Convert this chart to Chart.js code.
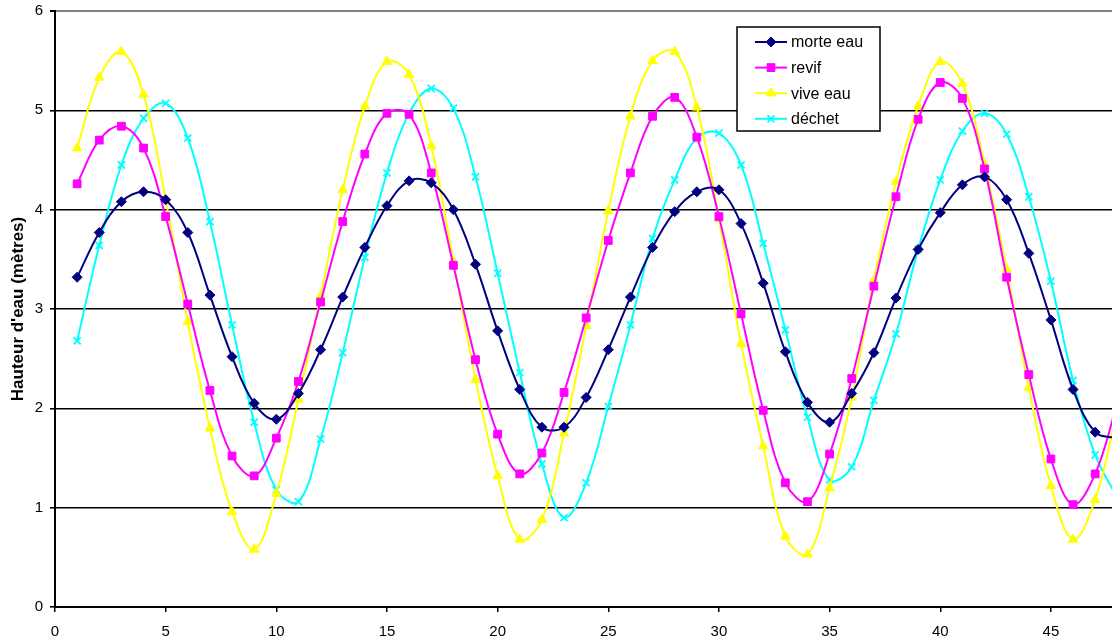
<!DOCTYPE html>
<html>
<head>
<meta charset="utf-8">
<script src="https://cdn.jsdelivr.net/npm/chart.js@4/dist/chart.umd.min.js"></script>
<style>
  html, body { margin: 0; padding: 0; background: #fff; overflow: hidden; }
  #wrap { width: 1112px; height: 643px; position: relative; }
  canvas { display: block; }
</style>
</head>
<body>
<div id="wrap"><canvas id="tideChart"></canvas></div>
<script>
// Days (x values)
const days = [1,2,3,4,5,6,7,8,9,10,11,12,13,14,15,16,17,18,19,20,21,22,23,24,
              25,26,27,28,29,30,31,32,33,34,35,36,37,38,39,40,41,42,43,44,45,46,47,48];

// Water heights in metres
const morteEau = [3.32,3.77,4.08,4.18,4.10,3.77,3.14,2.52,2.05,1.89,2.15,2.59,
                  3.12,3.62,4.04,4.29,4.27,4.00,3.45,2.78,2.19,1.81,1.81,2.11,
                  2.59,3.12,3.62,3.98,4.18,4.20,3.86,3.26,2.57,2.06,1.86,2.15,
                  2.56,3.11,3.60,3.97,4.25,4.33,4.10,3.56,2.89,2.19,1.76,1.70];
const revif    = [4.26,4.70,4.84,4.62,3.93,3.05,2.18,1.52,1.32,1.70,2.27,3.07,
                  3.88,4.56,4.97,4.96,4.37,3.44,2.49,1.74,1.34,1.55,2.16,2.91,
                  3.69,4.37,4.94,5.13,4.73,3.93,2.95,1.98,1.25,1.06,1.54,2.30,
                  3.23,4.13,4.91,5.28,5.12,4.41,3.32,2.34,1.49,1.03,1.34,2.05];
const viveEau  = [4.62,5.33,5.59,5.16,4.10,2.87,1.80,0.96,0.58,1.14,2.09,3.13,
                  4.20,5.04,5.49,5.36,4.64,3.48,2.29,1.32,0.68,0.88,1.75,2.83,
                  3.99,4.94,5.50,5.59,5.03,3.91,2.65,1.62,0.71,0.53,1.20,2.11,
                  3.29,4.28,5.04,5.49,5.27,4.46,3.40,2.21,1.22,0.68,1.08,1.98];
const dechet   = [2.68,3.64,4.45,4.92,5.07,4.72,3.88,2.84,1.86,1.18,1.06,1.69,
                  2.56,3.52,4.37,4.97,5.22,5.02,4.33,3.36,2.36,1.44,0.90,1.25,
                  2.02,2.84,3.71,4.30,4.72,4.77,4.45,3.66,2.79,1.91,1.28,1.41,
                  2.08,2.75,3.60,4.30,4.79,4.97,4.76,4.13,3.28,2.28,1.53,1.10];

const seriesNames = ['morte eau', 'revif', 'vive eau', 'déchet'];
const seriesColors = ['#000080', '#FF00FF', '#FFFF00', '#00FFFF'];
const seriesMarkers = ['rectRot', 'rect', 'triangle', 'crossRot'];
const seriesRadius = [5, 5.5, 5.5, 5];
const seriesValues = [morteEau, revif, viveEau, dechet];

const FONT = '"Liberation Sans", Arial, sans-serif';

function toPoints(values) {
  return days.map((d, i) => ({ x: d, y: values[i] }));
}

const datasets = seriesNames.map((name, i) => ({
  label: name,
  data: toPoints(seriesValues[i]),
  borderColor: seriesColors[i],
  backgroundColor: seriesColors[i],
  pointBackgroundColor: seriesColors[i],
  pointBorderColor: seriesColors[i],
  pointStyle: seriesMarkers[i],
  pointRadius: seriesRadius[i],
  pointBorderWidth: seriesMarkers[i] === 'crossRot' ? 1.8 : 1,
  borderWidth: 2,
  tension: 0.38,
  fill: false
}));

// legend box drawn inside the plot area
const boxLegend = {
  id: 'boxLegend',
  afterDraw(chart) {
    const ctx = chart.ctx;
    const a = chart.chartArea;
    const x0 = a.left + 682, y0 = a.top + 16, w = 143, h = 104;
    ctx.save();
    ctx.fillStyle = '#fff';
    ctx.fillRect(x0, y0, w, h);
    ctx.strokeStyle = '#000';
    ctx.lineWidth = 1.5;
    ctx.strokeRect(x0, y0, w, h);
    ctx.font = '16px ' + FONT;
    ctx.textBaseline = 'middle';
    seriesNames.forEach((name, i) => {
      const y = y0 + 15 + i * 25.6;
      ctx.strokeStyle = seriesColors[i];
      ctx.fillStyle = seriesColors[i];
      ctx.lineWidth = 2;
      ctx.beginPath();
      ctx.moveTo(x0 + 18, y);
      ctx.lineTo(x0 + 50, y);
      ctx.stroke();
      ctx.lineWidth = seriesMarkers[i] === 'crossRot' ? 1.8 : 1;
      Chart.helpers.drawPoint(ctx, {
        pointStyle: seriesMarkers[i],
        radius: seriesRadius[i],
        rotation: 0,
        borderWidth: ctx.lineWidth
      }, x0 + 34, y);
      ctx.fillStyle = '#000';
      ctx.fillText(name, x0 + 54, y + 1);
    });
    ctx.restore();
  }
};

new Chart(document.getElementById('tideChart'), {
  type: 'line',
  data: { datasets: datasets },
  plugins: [boxLegend],
  options: {
    responsive: true,
    maintainAspectRatio: false,
    animation: false,
    layout: { autoPadding: false, padding: { top: 11, right: 0, left: 0, bottom: 0 } },
    plugins: {
      legend: { display: false },
      tooltip: { enabled: false }
    },
    scales: {
      x: {
        type: 'linear',
        min: 0,
        max: 47.76,
        afterFit(scale) { scale.height = 36; },
        grid: {
          drawOnChartArea: false,
          color: '#000',
          tickColor: '#000',
          tickLength: 5,
          lineWidth: 1.5
        },
        border: { display: true, color: '#000', width: 2 },
        ticks: {
          stepSize: 5,
          includeBounds: false,
          maxRotation: 0,
          padding: 11,
          color: '#000',
          font: { family: FONT, size: 15 }
        }
      },
      y: {
        min: 0,
        max: 6,
        afterFit(scale) {
          scale.width = 55;
          scale.paddingTop = 0;
          scale.paddingBottom = 0;
        },
        grid: {
          color: (c) => c.tick && c.tick.value === 6 ? '#808080' : '#000',
          tickColor: '#000',
          tickLength: 5,
          lineWidth: (c) => c.tick && c.tick.value === 6 ? 2 : 1.6
        },
        border: { display: true, color: '#000', width: 2 },
        ticks: {
          stepSize: 1,
          padding: 7,
          color: '#000',
          font: { family: FONT, size: 15 }
        },
        title: {
          display: true,
          text: "Hauteur d'eau (mètres)",
          color: '#000',
          padding: { top: 8, bottom: 0 },
          font: { family: FONT, size: 17, weight: 'bold' }
        }
      }
    }
  }
});
</script>
</body>
</html>
